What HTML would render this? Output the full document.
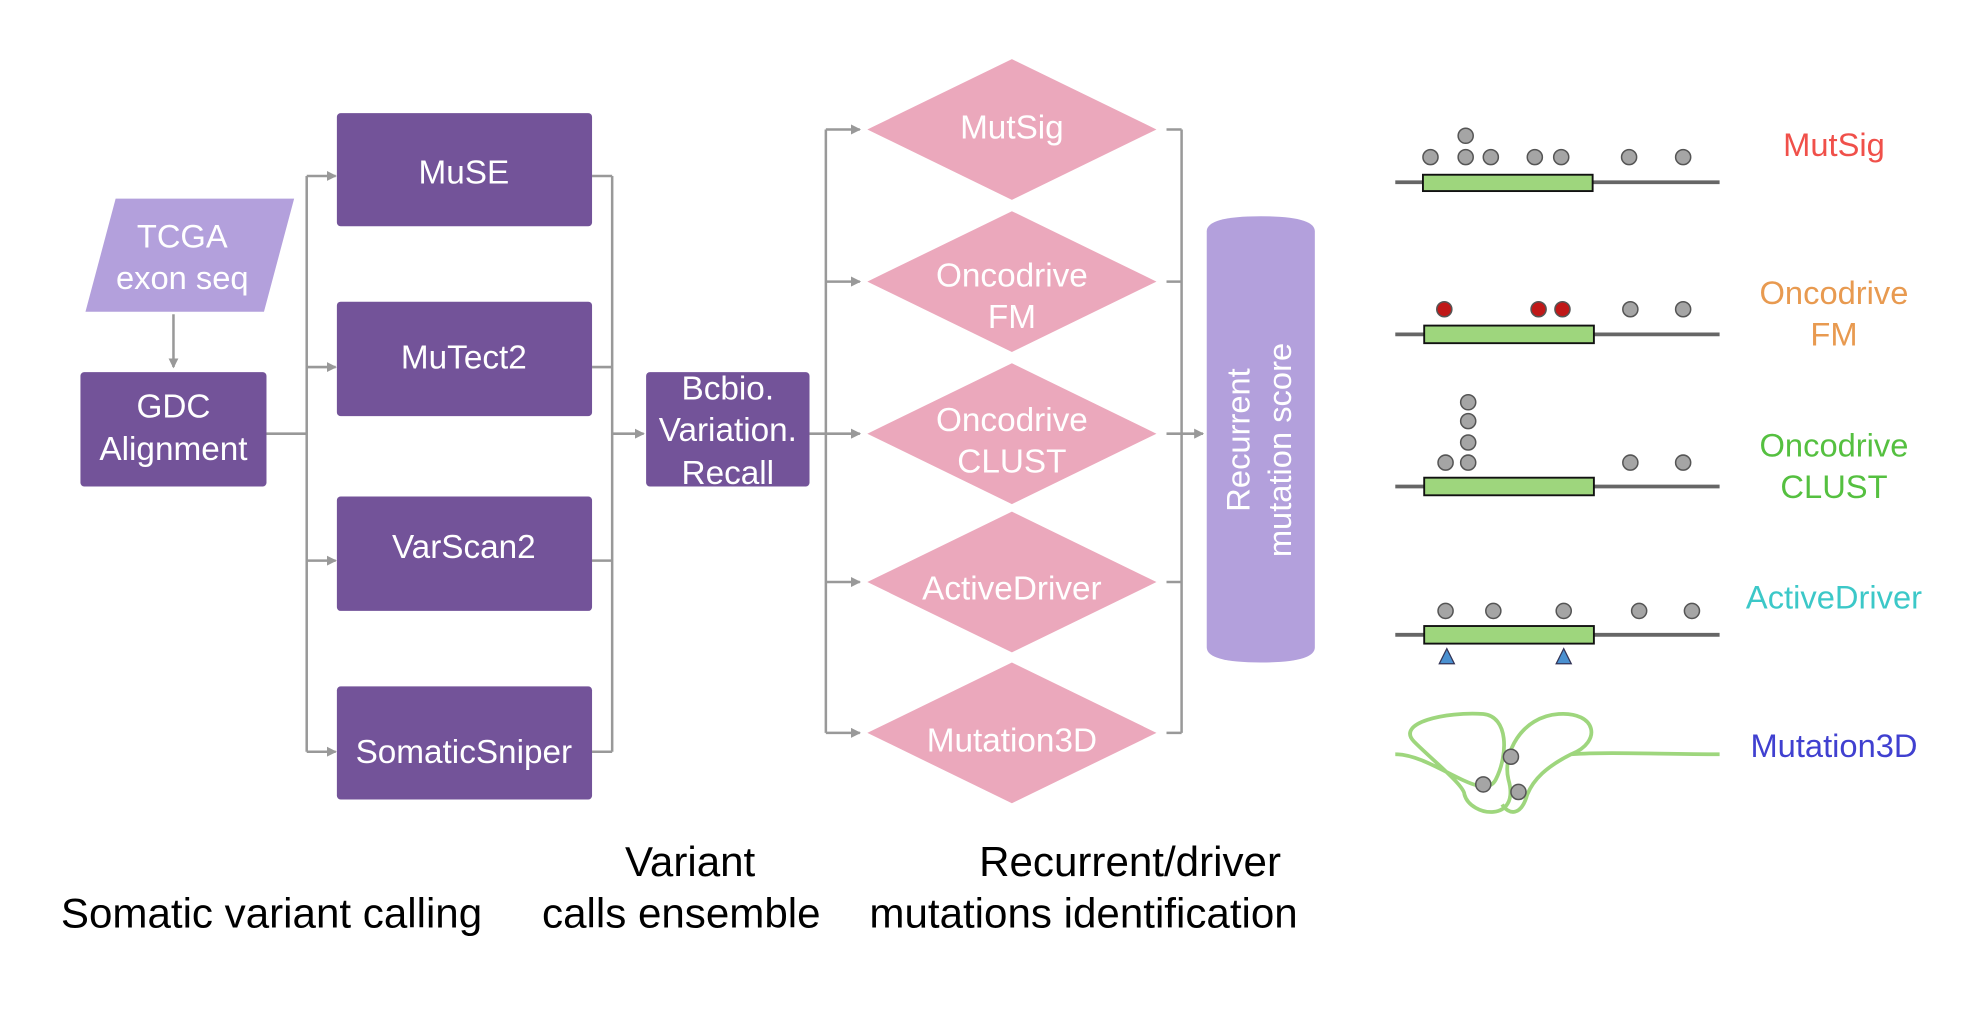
<!DOCTYPE html>
<html><head><meta charset="utf-8"><style>html,body{margin:0;padding:0;background:#fff}svg{display:block}</style></head>
<body>
<svg width="1971" height="1022" viewBox="0 0 1568 813" preserveAspectRatio="none" xmlns="http://www.w3.org/2000/svg" font-family="Liberation Sans, sans-serif">
<defs><marker id="a" markerWidth="8" markerHeight="8" refX="7" refY="4" orient="auto" markerUnits="userSpaceOnUse"><path d="M0,0 L8,4 L0,8 z" fill="#999"/></marker></defs>
<rect width="1568" height="813" fill="#fff"/>
<g stroke="#999" stroke-width="2" fill="none">
<line x1="138" y1="250" x2="138" y2="292" marker-end="url(#a)"/>
<line x1="212" y1="345" x2="244" y2="345"/>
<line x1="244" y1="140" x2="244" y2="598"/>
<line x1="244" y1="140" x2="267" y2="140" marker-end="url(#a)"/>
<line x1="244" y1="292" x2="267" y2="292" marker-end="url(#a)"/>
<line x1="244" y1="446" x2="267" y2="446" marker-end="url(#a)"/>
<line x1="244" y1="598" x2="267" y2="598" marker-end="url(#a)"/>
<path d="M471,140H487M471,292H487M471,446H487M471,598H487M487,140V598"/>
<line x1="487" y1="345" x2="512" y2="345" marker-end="url(#a)"/>
<path d="M644,345H657M657,103V583"/>
<line x1="657" y1="103" x2="684" y2="103" marker-end="url(#a)"/>
<line x1="657" y1="224" x2="684" y2="224" marker-end="url(#a)"/>
<line x1="657" y1="345" x2="684" y2="345" marker-end="url(#a)"/>
<line x1="657" y1="463" x2="684" y2="463" marker-end="url(#a)"/>
<line x1="657" y1="583" x2="684" y2="583" marker-end="url(#a)"/>
<path d="M928,103H940M928,224H940M928,345H940M928,463H940M928,583H940M940,103V583"/>
<line x1="940" y1="345" x2="957" y2="345" marker-end="url(#a)"/>
</g>
<polygon points="92,158 234,158 210,248 68,248" fill="#b3a0dc"/>
<text x="145" y="197" font-size="26" fill="#fff" text-anchor="middle">TCGA</text>
<text x="145" y="230" font-size="26" fill="#fff" text-anchor="middle">exon seq</text>
<g fill="#735399">
<rect x="64" y="296" width="148" height="91" rx="3"/>
<rect x="268" y="90" width="203" height="90" rx="3"/>
<rect x="268" y="240" width="203" height="91" rx="3"/>
<rect x="268" y="395" width="203" height="91" rx="3"/>
<rect x="268" y="546" width="203" height="90" rx="3"/>
<rect x="514" y="296" width="130" height="91" rx="3"/>
</g>
<g fill="#fff" font-size="26.5" text-anchor="middle">
<text x="138" y="332">GDC</text><text x="138" y="366">Alignment</text>
<text x="369" y="146">MuSE</text>
<text x="369" y="293">MuTect2</text>
<text x="369" y="444">VarScan2</text>
<text x="369" y="607">SomaticSniper</text>
<text x="579" y="318">Bcbio.</text><text x="579" y="351">Variation.</text><text x="579" y="385">Recall</text>
</g>
<g fill="#eba8bc">
<polygon points="805,47 920,103 805,159 690,103"/>
<polygon points="805,168 920,224 805,280 690,224"/>
<polygon points="805,289 920,345 805,401 690,345"/>
<polygon points="805,407 920,463 805,519 690,463"/>
<polygon points="805,527 920,583 805,639 690,583"/>
</g>
<g fill="#fff" font-size="26.5" text-anchor="middle">
<text x="805" y="110">MutSig</text>
<text x="805" y="228">Oncodrive</text><text x="805" y="261">FM</text>
<text x="805" y="343">Oncodrive</text><text x="805" y="376">CLUST</text>
<text x="805" y="477">ActiveDriver</text>
<text x="805" y="598">Mutation3D</text>
</g>
<path d="M960,184 Q960,172 1003,172 Q1046,172 1046,184 V515 Q1046,527 1003,527 Q960,527 960,515 Z" fill="#b3a0dc"/>
<g fill="#fff" font-size="26" text-anchor="middle" transform="rotate(-90)">
<text x="-350" y="994">Recurrent</text><text x="-358" y="1027">mutation score</text>
</g>
<g font-size="33.5" fill="#000" text-anchor="middle">
<text x="216" y="738">Somatic variant calling</text>
<text x="549" y="697">Variant</text><text x="542" y="738">calls ensemble</text>
<text x="899" y="697">Recurrent/driver</text><text x="862" y="738">mutations identification</text>
</g>
<g stroke="#666" stroke-width="3"><line x1="1110" y1="145" x2="1368" y2="145"/><line x1="1110" y1="266" x2="1368" y2="266"/><line x1="1110" y1="387" x2="1368" y2="387"/><line x1="1110" y1="505" x2="1368" y2="505"/></g>
<g fill="#9ed67d" stroke="#111" stroke-width="1.5">
<rect x="1132" y="139" width="135" height="13"/><rect x="1133" y="259" width="135" height="14"/><rect x="1133" y="380" width="135" height="14"/><rect x="1133" y="498" width="135" height="14"/>
</g>
<g fill="#a5a5a5" stroke="#555" stroke-width="1.2">
<circle cx="1166" cy="108" r="6"/>
<circle cx="1138" cy="125" r="6"/><circle cx="1166" cy="125" r="6"/><circle cx="1186" cy="125" r="6"/><circle cx="1221" cy="125" r="6"/><circle cx="1242" cy="125" r="6"/><circle cx="1296" cy="125" r="6"/><circle cx="1339" cy="125" r="6"/>
<circle cx="1297" cy="246" r="6"/><circle cx="1339" cy="246" r="6"/>
<circle cx="1168" cy="320" r="6"/><circle cx="1168" cy="335" r="6"/><circle cx="1168" cy="352" r="6"/><circle cx="1168" cy="368" r="6"/><circle cx="1150" cy="368" r="6"/><circle cx="1297" cy="368" r="6"/><circle cx="1339" cy="368" r="6"/>
<circle cx="1150" cy="486" r="6"/><circle cx="1188" cy="486" r="6"/><circle cx="1244" cy="486" r="6"/><circle cx="1304" cy="486" r="6"/><circle cx="1346" cy="486" r="6"/>
</g>
<g fill="#c01818" stroke="#555" stroke-width="1.2"><circle cx="1149" cy="246" r="6"/><circle cx="1224" cy="246" r="6"/><circle cx="1243" cy="246" r="6"/></g>
<g fill="#4a90d0" stroke="#335" stroke-width="1"><polygon points="1151,516 1157,528 1145,528"/><polygon points="1244,516 1250,528 1238,528"/></g>
<path d="M1110,600 C1140,600 1180,640 1190,620 C1200,600 1200,570 1180,568 C1150,566 1110,575 1125,590 C1140,605 1165,625 1165,632 C1170,650 1210,655 1200,620 C1195,600 1210,570 1240,568 C1270,566 1275,590 1250,600 C1230,610 1220,620 1215,632 C1210,650 1200,648 1195,640 M1250,600 C1280,598 1320,600 1368,600" fill="none" stroke="#9ed67d" stroke-width="3"/>
<g fill="#a5a5a5" stroke="#555" stroke-width="1.2"><circle cx="1202" cy="602" r="6"/><circle cx="1180" cy="624" r="6"/><circle cx="1208" cy="630" r="6"/></g>
<g font-size="26" text-anchor="middle">
<text x="1459" y="124" fill="#f0504a">MutSig</text>
<text x="1459" y="242" fill="#e89a50">Oncodrive</text><text x="1459" y="275" fill="#e89a50">FM</text>
<text x="1459" y="363" fill="#55c040">Oncodrive</text><text x="1459" y="396" fill="#55c040">CLUST</text>
<text x="1459" y="484" fill="#3cc8c8">ActiveDriver</text>
<text x="1459" y="602" fill="#4040d0">Mutation3D</text>
</g>
</svg>
</body></html>
